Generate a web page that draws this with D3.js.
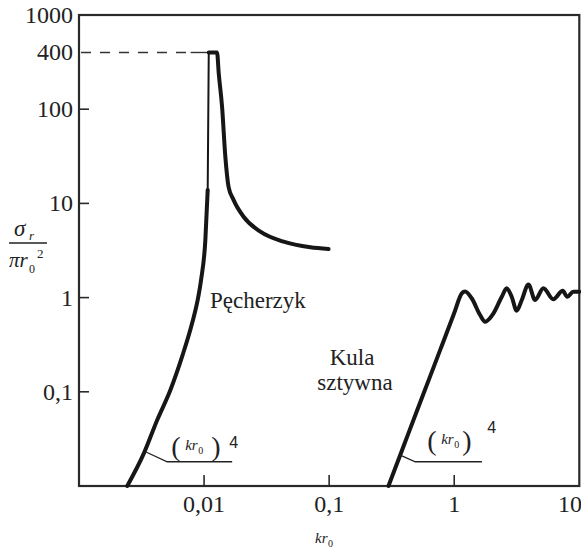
<!DOCTYPE html>
<html><head><meta charset="utf-8">
<script src="https://cdn.jsdelivr.net/npm/d3@7"></script>
</head>
<body style="margin:0"><svg id="c" width="581" height="550" font-family="Times New Roman"></svg>
<script>
// ---- data ----
const xTickValues = [0.01, 0.1, 1, 10];
const xTickLabels = ["0,01", "0,1", "1", "10"];
const yTickValues = [1000, 400, 100, 10, 1, 0.1];
const yTickLabels = ["1000", "400", "100", "10", "1", "0,1"];
const peakLevel = 400;

// bubble (Pęcherzyk): rising branch, resonance spike, falling branch
const bubbleRiseX = [0.00243, 0.0033, 0.00422, 0.00538, 0.00667, 0.00802, 0.00889, 0.00946, 0.01024, 0.01069];
const bubbleRiseY = [0.01, 0.0222, 0.0502, 0.1045, 0.236, 0.533, 0.944, 1.54, 4.09, 13.9];
const bubbleSpikeX = [0.01069, 0.0109];
const bubbleSpikeY = [13.9, 400];
const bubbleFallX = [0.0109, 0.0127, 0.0131, 0.01393, 0.01479, 0.0157, 0.0172, 0.0207, 0.0282, 0.0432, 0.0707, 0.0989];
const bubbleFallY = [400, 400, 240, 106, 31.3, 15.0, 10.9, 7.22, 5.01, 3.92, 3.42, 3.28];

// rigid sphere (Kula sztywna)
const sphereX = [0.298, 0.392, 0.495, 0.625, 0.790, 0.998, 1.15, 1.22, 1.38, 1.61, 1.765, 2.06, 2.40, 2.63, 2.88, 3.16, 3.47, 3.92, 4.43, 5.16, 6.20, 7.37, 8.02, 8.95, 10];
const sphereY = [0.01, 0.0261, 0.0592, 0.133, 0.301, 0.681, 1.11, 1.16, 0.984, 0.653, 0.555, 0.681, 1.02, 1.256, 1.02, 0.726, 0.944, 1.38, 0.944, 1.256, 0.96, 1.18, 1.02, 1.155, 1.155];

// ---- layout ----
const svg = d3.select("#c");
svg.append("rect").attr("width", 581).attr("height", 550).attr("fill", "#fff");
const L = 79, R = 579.3, T = 15, B = 486;
const x = d3.scaleLog().domain([0.001, 10]).range([L, R]);
const y = d3.scaleLog().domain([0.01, 1000]).range([B, T]);
const ink = "#161616", axisInk = "#2a2a2a", txt = "#222";
const SERIF = "Times New Roman";
const SANS = "Liberation Sans";

// frame
svg.append("rect").attr("x", L).attr("y", T).attr("width", R - L).attr("height", B - T)
  .attr("fill", "none").attr("stroke", axisInk).attr("stroke-width", 2.2);

// inward ticks
const yInner = yTickValues.filter(v => v !== 1000 && v !== peakLevel);
svg.append("g").selectAll("line").data(yInner).join("line")
  .attr("x1", L).attr("x2", L + 10).attr("y1", d => y(d)).attr("y2", d => y(d))
  .attr("stroke", axisInk).attr("stroke-width", 1.6);
const xInner = xTickValues.filter(v => v !== 10);
svg.append("g").selectAll("line").data(xInner).join("line")
  .attr("x1", d => x(d)).attr("x2", d => x(d)).attr("y1", B).attr("y2", B - 11)
  .attr("stroke", axisInk).attr("stroke-width", 1.6);

// tick labels
svg.selectAll("text.yl").data(yTickValues).join("text").attr("class", "yl")
  .attr("font-family", SERIF).attr("fill", txt)
  .attr("x", L - 6).attr("y", d => y(d) + 8)
  .attr("text-anchor", "end").attr("font-size", 24)
  .text((d, i) => yTickLabels[i]);
svg.selectAll("text.xl").data(xTickValues).join("text").attr("class", "xl")
  .attr("font-family", SERIF).attr("fill", txt)
  .attr("x", d => d === 10 ? 582 : x(d)).attr("y", 512)
  .attr("text-anchor", d => d === 10 ? "end" : "middle").attr("font-size", 24)
  .text((d, i) => xTickLabels[i]);

// dashed reference at 400
svg.append("line").attr("x1", L + 2).attr("x2", x(0.0078)).attr("y1", y(peakLevel)).attr("y2", y(peakLevel))
  .attr("stroke", "#333").attr("stroke-width", 1.4).attr("stroke-dasharray", "10,9");
svg.append("line").attr("x1", x(0.0078)).attr("x2", x(0.0109)).attr("y1", y(peakLevel)).attr("y2", y(peakLevel))
  .attr("stroke", "#333").attr("stroke-width", 1.4);

// curves
const toPts = (xs, ys) => xs.map((v, i) => [v, ys[i]]);
const lineM = d3.line().x(d => x(d[0])).y(d => y(d[1])).curve(d3.curveMonotoneX);
const lineL = d3.line().x(d => x(d[0])).y(d => y(d[1]));
const drawCurve = (pts, gen, w) => svg.append("path").datum(pts).attr("d", gen)
  .attr("fill", "none").attr("stroke", ink).attr("stroke-width", w)
  .attr("stroke-linejoin", "round").attr("stroke-linecap", "round");
drawCurve(toPts(bubbleRiseX, bubbleRiseY), lineM, 4);
drawCurve(toPts(bubbleSpikeX, bubbleSpikeY), lineL, 2);
drawCurve(toPts(bubbleFallX, bubbleFallY), lineM, 4);
drawCurve(toPts(sphereX, sphereY), lineM, 4);

// text helper
const addText = (xp, yp, s, size, opts = {}) => svg.append("text")
  .attr("x", xp).attr("y", yp).attr("font-family", opts.family || SERIF)
  .attr("font-size", size).attr("fill", txt)
  .attr("font-style", opts.italic ? "italic" : null)
  .attr("text-anchor", opts.anchor || null).text(s);
addText(210, 308, "Pęcherzyk", 23);
addText(352, 365, "Kula", 23, {anchor: "middle"});
addText(355, 390, "sztywna", 23, {anchor: "middle"});

// (kr0)^4 annotations
const annotations = [
  {ax: 0.0034, ay: 0.0231, ex: 21.7, ey: 10, len: 65, px: 4, pb: -6, p2: 44, sup: 62, supb: -14},
  {ax: 0.370, ay: 0.0213, ex: 15, ey: 6.7, len: 66.7, px: 12, pb: -12, p2: 47, sup: 72, supb: -29}
];
annotations.forEach(a => {
  const sx = x(a.ax), sy = y(a.ay);
  const exx = sx + a.ex, eyy = sy + a.ey;
  svg.append("polyline").attr("points", `${sx},${sy} ${exx},${eyy} ${exx + a.len},${eyy}`)
    .attr("fill", "none").attr("stroke", "#222").attr("stroke-width", 1.3);
  addText(exx + a.px, eyy + a.pb, "(", 28);
  addText(exx + a.px + 14, eyy + a.pb - 6, "kr", 15, {italic: true});
  addText(exx + a.px + 27, eyy + a.pb - 2, "0", 10);
  addText(exx + a.p2, eyy + a.pb, ")", 28);
  addText(exx + a.sup, eyy + a.supb, "4", 16, {family: SANS});
});

// y axis title: sigma_r / (pi r0^2)
addText(14, 236, "σ", 23, {italic: true});
addText(29, 240, "r", 13, {italic: true});
svg.append("line").attr("x1", 9).attr("x2", 47).attr("y1", 243).attr("y2", 243).attr("stroke", "#222").attr("stroke-width", 1.3);
addText(9, 267, "πr", 21, {italic: true});
addText(29, 273, "0", 12);
addText(37, 258, "2", 13);

// x axis title: kr0
addText(315, 543, "kr", 15, {italic: true});
addText(328, 547, "0", 10);
</script></body></html>
